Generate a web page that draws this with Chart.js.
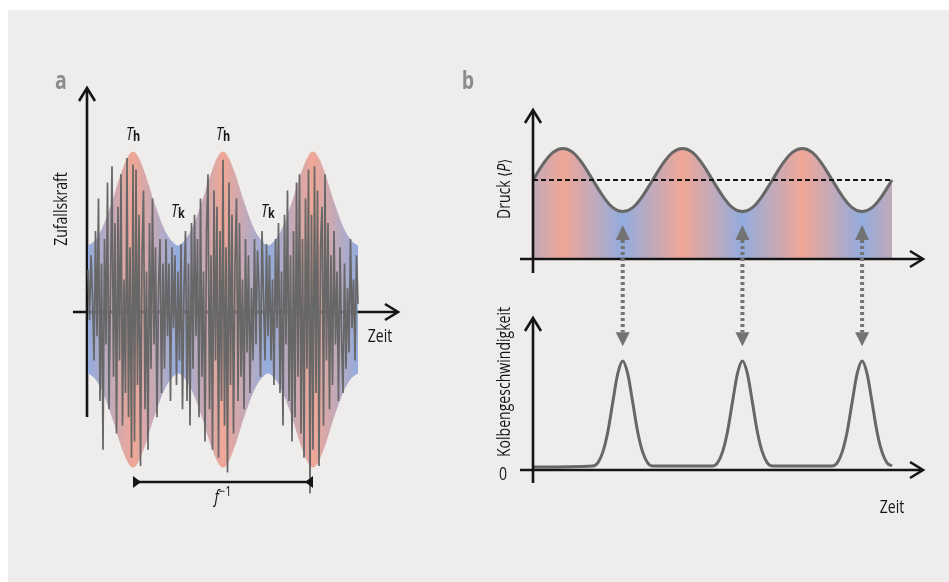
<!DOCTYPE html>
<html>
<head>
<meta charset="utf-8">
<script src="https://cdn.jsdelivr.net/npm/chart.js@4.4.1/dist/chart.umd.min.js"></script>
<style>
  body { margin: 0; width: 949px; height: 582px; overflow: hidden; position: relative; background: #fff; }
  #panel { position: absolute; left: 8px; top: 10px; right: 0; bottom: 0; background: #efedeb; }
  canvas { position: absolute; left: 0; top: 0; }
</style>
</head>
<body>
<div id="panel"></div>
<canvas id="chartA" width="949" height="582"></canvas>
<canvas id="chartDruck" width="949" height="582"></canvas>
<canvas id="chartKolben" width="949" height="582"></canvas>
<script>
// ---- panel a: random force with hot/cold envelope ----
const envTime = [0,5,10,15,20,25,30,35,40,45,50,55,60,65,70,75,80,85,90,95,100,105,110,115,120,125,130,135,
  140,145,150,155,160,165,170,175,180,185,190,195,200,205,210,215,220,225,230,235,240,245,250,255,260,265,270]
const envUpper = [0.41,0.43,0.47,0.53,0.61,0.70,0.80,0.89,0.96,0.99,0.96,0.89,0.80,0.70,0.61,0.53,0.47,0.43,0.41,
  0.43,0.47,0.53,0.61,0.70,0.80,0.89,0.96,0.99,0.96,0.89,0.80,0.70,0.61,0.53,0.47,0.43,0.41,
  0.43,0.47,0.53,0.61,0.70,0.80,0.89,0.96,0.99,0.96,0.89,0.80,0.70,0.61,0.53,0.47,0.43,0.41]
const envLower = [-0.38,-0.40,-0.44,-0.50,-0.58,-0.67,-0.77,-0.86,-0.93,-0.96,-0.93,-0.86,-0.77,-0.67,-0.58,-0.50,-0.44,-0.40,-0.38,
  -0.40,-0.44,-0.50,-0.58,-0.67,-0.77,-0.86,-0.93,-0.96,-0.93,-0.86,-0.77,-0.67,-0.58,-0.50,-0.44,-0.40,-0.38,
  -0.40,-0.44,-0.50,-0.58,-0.67,-0.77,-0.86,-0.93,-0.96,-0.93,-0.86,-0.77,-0.67,-0.58,-0.50,-0.44,-0.40,-0.38]
const noiseStep = 1.5
const noiseValues = [
  0.26,-0.05,0.35,0.10,-0.30,0.50,-0.15,0.70,-0.55,0.30,-0.85,
  0.45,-0.20,0.80,-0.60,0.15,0.90,-0.40,0.55,-0.75,0.65,
  -0.30,0.85,-0.70,0.20,-0.50,0.95,-0.65,0.40,-0.90,0.91,
  -0.80,0.88,-0.45,0.60,-0.95,0.35,0.75,-0.60,0.25,-0.85,
  0.55,-0.35,0.70,-0.20,0.40,-0.65,0.15,0.45,-0.50,0.30,
  -0.35,0.45,-0.15,0.30,-0.55,0.40,-0.10,0.35,-0.45,0.25,
  -0.30,0.42,-0.60,0.15,0.50,-0.55,0.30,-0.70,0.55,-0.35,
  0.60,-0.15,0.45,-0.65,0.70,-0.40,0.25,-0.80,0.50,0.85,
  -0.60,0.35,-0.85,0.75,-0.30,0.65,-0.90,0.50,-0.55,0.94,
  -0.70,0.40,-0.99,0.80,-0.45,0.60,-0.75,0.30,0.70,-0.55,
  0.55,-0.40,0.20,-0.60,0.45,-0.25,0.35,-0.50,0.15,-0.30,
  0.45,-0.20,0.38,0.15,-0.40,0.50,0.10,-0.30,0.42,-0.15,
  0.35,-0.30,0.20,-0.45,0.45,-0.10,0.55,-0.50,0.25,-0.70,
  0.60,-0.20,0.75,-0.55,0.35,-0.80,0.50,-0.65,0.80,-0.40,
  0.85,-0.75,0.45,-0.90,0.70,-0.35,0.88,-1.12,0.60,-0.85,
  0.90,-0.50,0.75,-0.95,0.40,0.65,-0.70,0.85,-0.30,0.55,
  -0.60,0.35,-0.45,0.50,-0.20,0.25,-0.55,0.40,-0.15,-0.50,
  0.30,-0.35,0.15,-0.25,0.45,-0.10,0.20,-0.30,0.35,0.05
]
const hotTimes = [45, 135, 225]
const coldTimes = [0, 90, 180, 270]

// ---- panel b: pressure and piston velocity ----
const pressTime = [0,10,20,30,40,50,60,70,80,90,100,110,120,130,140,150,160,170,180,
  190,200,210,220,230,240,250,260,270,280,290,300,310,320,330,340,350,360]
const pressValues = [1.00,1.20,1.35,1.40,1.35,1.20,1.00,0.80,0.65,0.60,0.65,0.80,
  1.00,1.20,1.35,1.40,1.35,1.20,1.00,0.80,0.65,0.60,0.65,0.80,
  1.00,1.20,1.35,1.40,1.35,1.20,1.00,0.80,0.65,0.60,0.65,0.80,1.00]
const meanPressure = 1.0
const pressPeaks = [30, 150, 270, 390]
const pressTroughs = [-30, 90, 210, 330]

const velTime = [0,
  60,65,70,75,80,85,90,95,100,105,110,115,120,
  180,185,190,195,200,205,210,215,220,225,230,235,240,
  300,305,310,315,320,325,330,335,340,345,350,355,360]
const velValues = [0,
  0.01,0.04,0.14,0.33,0.61,0.88,1.00,0.88,0.61,0.33,0.14,0.04,0.01,
  0.01,0.04,0.14,0.33,0.61,0.88,1.00,0.88,0.61,0.33,0.14,0.04,0.01,
  0.01,0.04,0.14,0.33,0.61,0.88,1.00,0.88,0.61,0.33,0.14,0.04,0.01]
const strokeTimes = [90, 210, 330]

const FONT = "'Open Sans', 'DejaVu Sans', sans-serif"
const RED = '#f0a796'
const BLUE = '#93acde'
const INK = '#151515'
const CURVE = '#676767'

// condensed look: squeeze text so the long label gets its reference length
let SQUEEZE = 0.8
;(() => {
  let c = document.createElement('canvas').getContext('2d')
  c.font = '18px ' + FONT
  let w = c.measureText('Kolbengeschwindigkeit').width
  if (w > 0) SQUEEZE = 150 / w
})()

function pairs(xs, ys) {
  return ys.map((v, i) => ({ x: xs[i], y: v }))
}

function stripeGradient(chart, hot, cold) {
  if (!chart.chartArea) return BLUE
  let stops = hot.map(t => [t, RED]).concat(cold.map(t => [t, BLUE]))
  stops.sort((a, b) => a[0] - b[0])
  let first = stops[0][0], last = stops[stops.length - 1][0]
  let x = chart.scales.x
  let g = chart.ctx.createLinearGradient(x.getPixelForValue(first), 0, x.getPixelForValue(last), 0)
  stops.forEach(s => g.addColorStop((s[0] - first) / (last - first), s[1]))
  return g
}

function line(ctx, x1, y1, x2, y2) {
  ctx.beginPath()
  ctx.moveTo(x1, y1)
  ctx.lineTo(x2, y2)
  ctx.stroke()
}

// open arrow head, dir 'up' or 'right'
function chevron(ctx, x, y, dir) {
  ctx.beginPath()
  if (dir === 'up') {
    ctx.moveTo(x - 8, y + 13); ctx.lineTo(x, y); ctx.lineTo(x + 8, y + 13)
  } else {
    ctx.moveTo(x - 13, y - 8); ctx.lineTo(x, y); ctx.lineTo(x - 13, y + 8)
  }
  ctx.stroke()
}

function axes(ctx, ox, oy, yTop, yBottom, xLeft, xRight) {
  ctx.save()
  ctx.strokeStyle = INK
  ctx.lineWidth = 2.6
  ctx.lineJoin = 'miter'
  line(ctx, ox, yBottom, ox, yTop + 1)
  chevron(ctx, ox, yTop, 'up')
  line(ctx, xLeft, oy, xRight - 1, oy)
  chevron(ctx, xRight, oy, 'right')
  ctx.restore()
}

function richText(ctx, parts, x, y) {
  let total = 0
  parts.forEach(p => { ctx.font = p.font; p.w = ctx.measureText(p.text).width; total += p.w })
  ctx.save()
  ctx.translate(x, y)
  ctx.scale(SQUEEZE, 1)
  let cx = -total / 2
  ctx.textAlign = 'left'
  ctx.textBaseline = 'alphabetic'
  parts.forEach(p => {
    ctx.font = p.font
    ctx.fillText(p.text, cx, p.dy || 0)
    cx += p.w
  })
  ctx.restore()
}

function rotatedText(ctx, parts, x, y) {
  ctx.save()
  ctx.translate(x, y)
  ctx.rotate(-Math.PI / 2)
  richText(ctx, parts, 0, 0)
  ctx.restore()
}

function panelLetter(ctx, letter, x, y) {
  ctx.save()
  ctx.fillStyle = '#8c8c8c'
  richText(ctx, [{ text: letter, font: 'bold 25px ' + FONT }], x, y)
  ctx.restore()
}

const plain = size => size + 'px ' + FONT

const baseOptions = (pad, xMin, xMax, yMin, yMax) => ({
  responsive: false,
  animation: false,
  events: [],
  layout: { padding: pad },
  plugins: { legend: { display: false }, tooltip: { enabled: false } },
  elements: { point: { radius: 0 } },
  scales: {
    x: { type: 'linear', display: false, min: xMin, max: xMax },
    y: { type: 'linear', display: false, min: yMin, max: yMax }
  }
})

// ---------- chart a ----------
const panelAPlugin = {
  id: 'panelA',
  beforeDatasetsDraw(chart) {
    let { x, y } = chart.scales
    axes(chart.ctx, x.getPixelForValue(0) - 1, y.getPixelForValue(0), 88, 417, 73, 398)
  },
  afterDatasetDraw(chart, args) {
    if (args.index !== 1) return
    let { ctx, scales: { x, y } } = chart
    ctx.save()
    ctx.strokeStyle = 'rgba(70,70,70,0.55)'
    ctx.lineWidth = 3
    line(ctx, x.getPixelForValue(0), y.getPixelForValue(0), x.getPixelForValue(270), y.getPixelForValue(0))
    ctx.restore()
  },
  afterDraw(chart) {
    let { ctx, scales: { x, y } } = chart
    ctx.save()
    ctx.fillStyle = INK
    hotTimes.slice(0, 2).forEach(t => richText(ctx, [
      { text: 'T', font: 'italic ' + plain(18) },
      { text: 'h', font: 'bold ' + plain(14), dy: 1 }
    ], x.getPixelForValue(t), 140))
    coldTimes.slice(1, -1).forEach(t => richText(ctx, [
      { text: 'T', font: 'italic ' + plain(18) },
      { text: 'k', font: 'bold ' + plain(14), dy: 1 }
    ], x.getPixelForValue(t), 217))

    rotatedText(ctx, [{ text: 'Zufallskraft', font: plain(18) }], 67, 209)
    richText(ctx, [{ text: 'Zeit', font: plain(18) }], 380, 342)

    // period bracket between first and last hot phase
    let bx1 = x.getPixelForValue(hotTimes[0]), bx2 = x.getPixelForValue(hotTimes[2])
    let by = 482
    ctx.strokeStyle = INK
    ctx.lineWidth = 2.6
    line(ctx, bx1, by, bx2, by)
    ctx.beginPath()
    ctx.moveTo(bx1, by - 6); ctx.lineTo(bx1, by + 6); ctx.lineTo(bx1 + 8, by); ctx.closePath()
    ctx.moveTo(bx2, by - 6); ctx.lineTo(bx2, by + 6); ctx.lineTo(bx2 - 8, by); ctx.closePath()
    ctx.fill()
    richText(ctx, [
      { text: 'f', font: 'italic ' + plain(18) },
      { text: '\u22121', font: plain(14), dy: -7 }
    ], (bx1 + bx2) / 2, 503)
    ctx.restore()
    panelLetter(ctx, 'a', 61, 89)
  }
}

new Chart(document.getElementById('chartA'), {
  type: 'line',
  data: {
    datasets: [
      {
        label: 'Zufallskraft',
        data: noiseValues.map((v, i) => ({ x: i * noiseStep, y: v })),
        borderColor: CURVE,
        borderWidth: 1.7,
        tension: 0,
        clip: false,
        order: 0
      },
      {
        label: 'Hülle oben',
        data: pairs(envTime, envUpper),
        borderWidth: 0,
        tension: 0.4,
        fill: '+1',
        backgroundColor: ctx => stripeGradient(ctx.chart, hotTimes, coldTimes),
        clip: false,
        order: 1
      },
      {
        label: 'Hülle unten',
        data: pairs(envTime, envLower),
        borderWidth: 0,
        tension: 0.4,
        fill: false,
        clip: false,
        order: 2
      }
    ]
  },
  options: baseOptions({ left: 88, right: 949 - 358, top: 150, bottom: 582 - 474 }, 0, 270, -1, 1),
  plugins: [panelAPlugin]
})

// ---------- chart b, pressure ----------
const druckPlugin = {
  id: 'druck',
  afterDatasetsDraw(chart) {
    let { ctx, scales: { x, y } } = chart
    axes(ctx, x.getPixelForValue(0), y.getPixelForValue(0), 110, 273, 520, 923)
    ctx.save()
    ctx.fillStyle = INK
    rotatedText(ctx, [
      { text: 'Druck ', font: plain(18) },
      { text: '\u27e8', font: plain(16) },
      { text: 'P', font: 'italic ' + plain(18) },
      { text: '\u27e9', font: plain(16) }
    ], 510, 189)
    ctx.restore()
    panelLetter(ctx, 'b', 468, 89)
  }
}

const druckChart = new Chart(document.getElementById('chartDruck'), {
  type: 'line',
  data: {
    datasets: [
      {
        label: 'Mittlerer Druck',
        data: [{ x: pressTime[0], y: meanPressure }, { x: pressTime[pressTime.length - 1], y: meanPressure }],
        borderColor: INK,
        borderWidth: 2,
        borderDash: [5, 3],
        order: 0
      },
      {
        label: 'Druck',
        data: pairs(pressTime, pressValues),
        borderColor: CURVE,
        borderWidth: 3,
        tension: 0.4,
        fill: 'origin',
        backgroundColor: ctx => stripeGradient(ctx.chart, pressPeaks, pressTroughs),
        clip: false,
        order: 1
      }
    ]
  },
  options: baseOptions({ left: 533, right: 949 - 892, top: 140.5, bottom: 582 - 259 }, 0, 360, 0, 1.5),
  plugins: [druckPlugin]
})

// ---------- chart b, piston velocity ----------
const kolbenPlugin = {
  id: 'kolben',
  afterDatasetsDraw(chart) {
    let { ctx, scales: { x, y } } = chart
    axes(ctx, x.getPixelForValue(0), y.getPixelForValue(0) + 3, 318, 483, 520, 923)
    ctx.save()
    ctx.fillStyle = INK
    rotatedText(ctx, [{ text: 'Kolbengeschwindigkeit', font: plain(18) }], 510, 382)
    richText(ctx, [{ text: '0', font: plain(18) }], 503, 480)
    richText(ctx, [{ text: 'Zeit', font: plain(18) }], 892, 513)

    // dotted double arrows linking pressure minima and velocity peaks
    let yUp = druckChart.scales.y.getPixelForValue(0.43)
    let yDown = y.getPixelForValue(1.14)
    ctx.fillStyle = '#737373'
    ctx.strokeStyle = '#737373'
    strokeTimes.forEach(t => {
      let px = x.getPixelForValue(t)
      ctx.lineWidth = 4
      ctx.setLineDash([3, 3])
      line(ctx, px, yUp + 15, px, yDown - 14)
      ctx.setLineDash([])
      ctx.beginPath()
      ctx.moveTo(px, yUp); ctx.lineTo(px - 7, yUp + 15); ctx.lineTo(px + 7, yUp + 15); ctx.closePath()
      ctx.moveTo(px, yDown); ctx.lineTo(px - 7, yDown - 14); ctx.lineTo(px + 7, yDown - 14); ctx.closePath()
      ctx.fill()
    })
    ctx.restore()
  }
}

new Chart(document.getElementById('chartKolben'), {
  type: 'line',
  data: {
    datasets: [{
      label: 'Kolbengeschwindigkeit',
      data: pairs(velTime, velValues),
      borderColor: CURVE,
      borderWidth: 3,
      cubicInterpolationMode: 'monotone',
      clip: false
    }]
  },
  options: baseOptions({ left: 533, right: 949 - 892, top: 361, bottom: 582 - 467 }, 0, 360, 0, 1),
  plugins: [kolbenPlugin]
})
</script>
</body>
</html>
